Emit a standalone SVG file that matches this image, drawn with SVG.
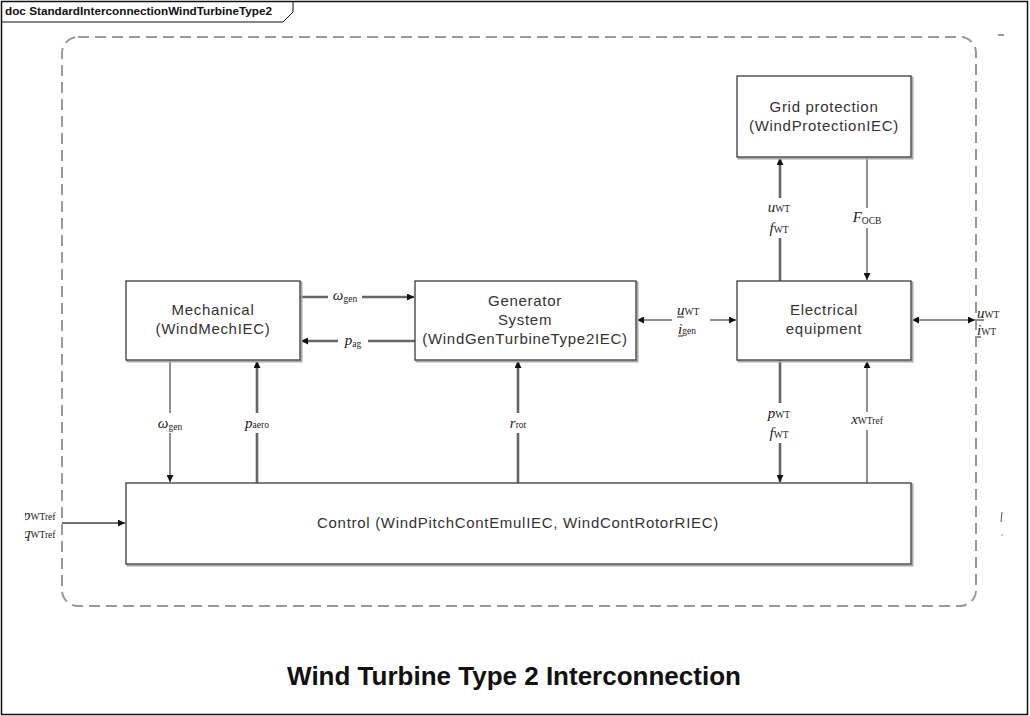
<svg xmlns="http://www.w3.org/2000/svg" width="1030" height="716" viewBox="0 0 1030 716">
<style>
.box{fill:#fff;stroke:#3a3a3a;stroke-width:1.3}
.shadow{fill:none;stroke:#aaa;stroke-width:2}
.bt{font-family:"Liberation Sans",Arial,sans-serif;font-size:15px;letter-spacing:0.7px;fill:#333;text-anchor:middle}
.thin{stroke:#222;stroke-width:1;fill:none}
.thick{stroke:#666;stroke-width:2.6;fill:none}
.lb{font-family:"Liberation Serif","Times New Roman",serif;font-size:15px;fill:#222;text-anchor:middle}
.lb.st{text-anchor:start}
.it{font-style:italic}
.sub{font-size:9.5px;font-style:normal}
.bg{fill:#fff}
</style>
<defs>
<marker id="ah" viewBox="0 0 10 10" refX="10" refY="5" markerWidth="9" markerHeight="7" markerUnits="userSpaceOnUse" orient="auto-start-reverse">
<path d="M0,0 L10,5 L0,10 z" fill="#111"/>
</marker>
<clipPath id="leftclip"><rect x="25" y="500" width="40" height="50"/></clipPath>
</defs>
<rect x="0" y="0" width="1030" height="716" fill="#fff"/>
<g id="frame">
<rect x="1.5" y="1.5" width="1026" height="713" fill="none" stroke="#111" stroke-width="1.5"/>
<polyline points="1.5,22 283,22 293,12 293,1.5" fill="none" stroke="#111" stroke-width="1"/>
<text x="5" y="15" font-family="Liberation Sans,Arial,sans-serif" font-size="11" font-weight="bold" fill="#111" textLength="267" lengthAdjust="spacingAndGlyphs">doc StandardInterconnectionWindTurbineType2</text>
</g>
<g id="boundary">
<rect x="62" y="37" width="914" height="569" rx="16" fill="none" stroke="#999" stroke-width="2" stroke-dasharray="11,6"/>
<line x1="998" y1="35" x2="1004" y2="35" stroke="#333" stroke-width="1"/>
<line x1="1002" y1="512" x2="1001" y2="522" stroke="#555" stroke-width="1"/>
<line x1="1002" y1="534" x2="1002" y2="536" stroke="#999" stroke-width="1"/>
</g>
<g id="connectors">
<line class="thick" x1="300" y1="297" x2="414" y2="297" marker-end="url(#ah)"/>
<line class="thick" x1="415" y1="341" x2="301" y2="341" marker-end="url(#ah)"/>
<line class="thin" x1="637" y1="320" x2="736" y2="320" marker-start="url(#ah)" marker-end="url(#ah)"/>
<line class="thin" x1="912" y1="320" x2="975" y2="320" marker-start="url(#ah)" marker-end="url(#ah)"/>
<line class="thick" x1="780" y1="281" x2="780" y2="158" marker-end="url(#ah)"/>
<line class="thin" x1="867" y1="157" x2="867" y2="280" marker-end="url(#ah)"/>
<line class="thin" x1="170" y1="360" x2="170" y2="482" marker-end="url(#ah)"/>
<line class="thick" x1="257" y1="483" x2="257" y2="361" marker-end="url(#ah)"/>
<line class="thick" x1="518" y1="483" x2="518" y2="361" marker-end="url(#ah)"/>
<line class="thick" x1="780" y1="360" x2="780" y2="482" marker-end="url(#ah)"/>
<line class="thin" x1="867" y1="483" x2="867" y2="361" marker-end="url(#ah)"/>
<line x1="62" y1="523" x2="125" y2="523" stroke="#444" stroke-width="1.6" marker-end="url(#ah)"/>
</g>
<g id="labels">
<rect class="bg" x="328" y="289" width="34" height="14"/>
<text class="lb" x="345" y="300"><tspan class="it">ω</tspan><tspan class="sub" dy="2">gen</tspan></text>
<rect class="bg" x="338" y="333" width="30" height="16"/>
<text class="lb" x="353" y="345"><tspan class="it">p</tspan><tspan class="sub" dy="2">ag</tspan></text>
<rect class="bg" x="672" y="304" width="38" height="34"/>
<text class="lb st" x="677" y="315"><tspan class="it">u</tspan><tspan class="sub">WT</tspan></text>
<line x1="677" y1="317" x2="684" y2="317" stroke="#222" stroke-width="1"/>
<text class="lb st" x="678" y="334"><tspan class="it">i</tspan><tspan class="sub">gen</tspan></text>
<line x1="678" y1="336" x2="683" y2="336" stroke="#222" stroke-width="1"/>
<text class="lb st" x="977" y="318"><tspan class="it">u</tspan><tspan class="sub">WT</tspan></text>
<line x1="977" y1="320" x2="984" y2="320" stroke="#666" stroke-width="1.5"/>
<text class="lb st" x="977" y="335"><tspan class="it">i</tspan><tspan class="sub">WT</tspan></text>
<line x1="977" y1="337" x2="981" y2="337" stroke="#666" stroke-width="1.5"/>
<rect class="bg" x="762" y="198" width="36" height="40"/>
<text class="lb" x="779" y="212"><tspan class="it">u</tspan><tspan class="sub">WT</tspan></text>
<text class="lb" x="779" y="233"><tspan class="it">f</tspan><tspan class="sub">WT</tspan></text>
<rect class="bg" x="846" y="208" width="42" height="20"/>
<text class="lb" x="867" y="222"><tspan class="it">F</tspan><tspan class="sub" dy="2">OCB</tspan></text>
<rect class="bg" x="152" y="413" width="36" height="20"/>
<text class="lb" x="170" y="428"><tspan class="it">ω</tspan><tspan class="sub" dy="2">gen</tspan></text>
<rect class="bg" x="236" y="413" width="42" height="20"/>
<text class="lb" x="257" y="428"><tspan class="it">p</tspan><tspan class="sub">aero</tspan></text>
<rect class="bg" x="503" y="413" width="30" height="20"/>
<text class="lb" x="518" y="428"><tspan class="it">r</tspan><tspan class="sub">rot</tspan></text>
<rect class="bg" x="761" y="403" width="38" height="40"/>
<text class="lb" x="779" y="418"><tspan class="it">p</tspan><tspan class="sub">WT</tspan></text>
<text class="lb" x="779" y="438"><tspan class="it">f</tspan><tspan class="sub">WT</tspan></text>
<rect class="bg" x="840" y="412" width="54" height="18"/>
<text class="lb" x="867" y="424"><tspan class="it">x</tspan><tspan class="sub">WTref</tspan></text>
<g clip-path="url(#leftclip)">
<text class="lb st" x="23" y="520"><tspan class="it">p</tspan><tspan class="sub">WTref</tspan></text>
<text class="lb st" x="23" y="538"><tspan class="it">q</tspan><tspan class="sub">WTref</tspan></text>
</g>
</g>
<g id="grid-protection">
<rect class="shadow" x="738.5" y="77.5" width="174" height="81"/>
<rect class="box" x="737" y="76" width="174" height="81"/>
<text class="bt" x="824" y="112">Grid protection</text>
<text class="bt" x="824" y="131">(WindProtectionIEC)</text>
</g>
<g id="mechanical">
<rect class="shadow" x="127.5" y="282.5" width="174" height="79"/>
<rect class="box" x="126" y="281" width="174" height="79"/>
<text class="bt" x="213" y="315">Mechanical</text>
<text class="bt" x="213" y="334">(WindMechIEC)</text>
</g>
<g id="generator-system">
<rect class="shadow" x="416.5" y="282.5" width="221" height="79"/>
<rect class="box" x="415" y="281" width="221" height="79"/>
<text class="bt" x="525" y="306">Generator</text>
<text class="bt" x="525" y="325">System</text>
<text class="bt" x="525" y="344">(WindGenTurbineType2IEC)</text>
</g>
<g id="electrical-equipment">
<rect class="shadow" x="738.5" y="282.5" width="174" height="79"/>
<rect class="box" x="737" y="281" width="174" height="79"/>
<text class="bt" x="824" y="315">Electrical</text>
<text class="bt" x="824" y="334">equipment</text>
</g>
<g id="control">
<rect class="shadow" x="127.5" y="484.5" width="785" height="81"/>
<rect class="box" x="126" y="483" width="785" height="81"/>
<text class="bt" x="518" y="528">Control (WindPitchContEmulIEC, WindContRotorRIEC)</text>
</g>
<text x="514" y="685" font-family="Liberation Sans,Arial,sans-serif" font-size="26" font-weight="bold" fill="#111" text-anchor="middle">Wind Turbine Type 2 Interconnection</text>
</svg>
